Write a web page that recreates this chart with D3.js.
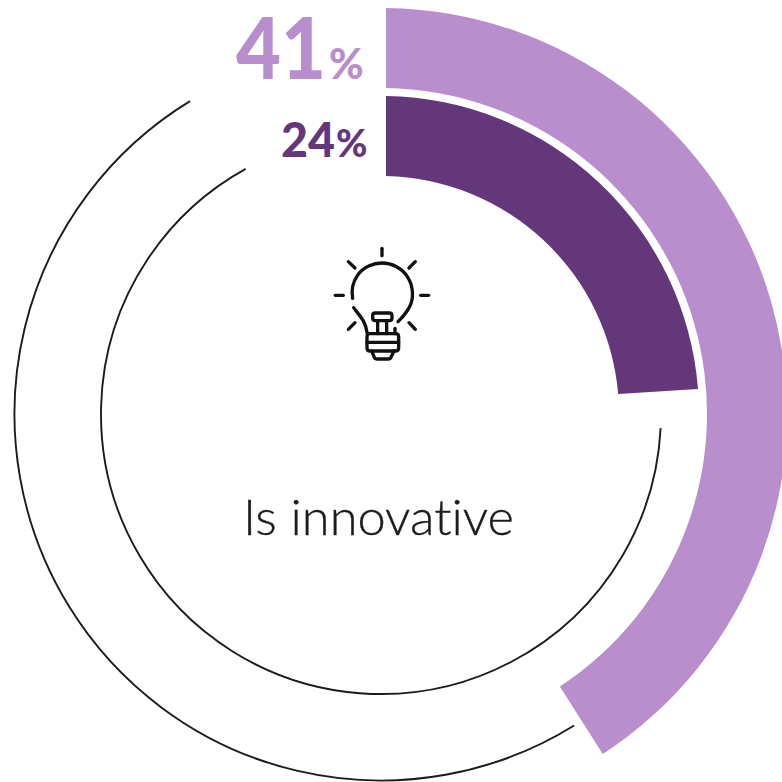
<!DOCTYPE html>
<html>
<head>
<meta charset="utf-8">
<script src="https://cdnjs.cloudflare.com/ajax/libs/d3/7.8.5/d3.min.js"></script>
<style>
html,body{margin:0;padding:0;background:#fff;overflow:hidden}
svg{display:block}
text{font-family:Lato,sans-serif;font-variant-ligatures:none}
</style>
</head>
<body>
<svg id="c" width="782" height="782"></svg>
<script>
const seriesNames = ["outer", "inner"];
const seriesValues = [41, 24];
const seriesLabels = ["41", "24"];
const seriesColors = ["#b88ecd", "#64367a"];
const title = "Is innovative";
// ring geometry
const bandOuter = [406, 318];
const bandInner = [326, 238];
const trackRadius = [366.5, 280];
const trackEndGapDeg = [0.6, 6.5];
const trackStartGapDeg = [31.4, 28.9];
const labelBase = [79, 157];
const labelNumX = [236, 281];
const labelNumWidth = [90, 54];
const labelNumSize = [86, 47];
const labelPctX = [329, 336];
const labelPctSize = [42, 38];

const svg = d3.select("#c");
const g = svg.append("g").attr("transform", "translate(381,414)");
const rad = d => d * Math.PI / 180;
const angle = d3.scaleLinear().domain([0, 100]).range([0, 360]);
const arc = d3.arc().padRadius(100).padAngle(0.1);

seriesNames.forEach((name, i) => {
  const end = angle(seriesValues[i]);
  // thin track
  g.append("path")
    .attr("d", d3.arc()({
      innerRadius: trackRadius[i], outerRadius: trackRadius[i],
      startAngle: rad(end + trackEndGapDeg[i]),
      endAngle: rad(360 - trackStartGapDeg[i])
    }))
    .attr("fill", "none").attr("stroke", "#1c1c1c").attr("stroke-width", 1.9);
  // band
  g.append("path")
    .attr("d", arc({
      innerRadius: bandInner[i], outerRadius: bandOuter[i],
      startAngle: 0, endAngle: rad(end)
    }))
    .attr("fill", seriesColors[i]);
  // labels
  svg.append("text").attr("x", labelNumX[i]).attr("y", labelBase[i])
    .attr("font-size", labelNumSize[i])
    .attr("textLength", labelNumWidth[i]).attr("lengthAdjust", "spacingAndGlyphs")
    .style("font-kerning", "none")
    .attr("font-weight", 900).attr("fill", seriesColors[i]).text(seriesLabels[i]);
  svg.append("text").attr("x", labelPctX[i]).attr("y", labelBase[i])
    .attr("font-size", labelPctSize[i]).attr("font-weight", 900)
    .attr("fill", seriesColors[i]).text("%");
});

svg.append("text").attr("x", 243).attr("y", 535)
  .attr("font-size", 50).attr("font-weight", 300).attr("fill", "#1c1c1c")
  .attr("stroke", "#1c1c1c").attr("stroke-width", 0.35)
  .attr("textLength", 271).attr("lengthAdjust", "spacingAndGlyphs").text(title);

// light-bulb icon
const icon = svg.append("g").attr("transform", "translate(320,235) scale(0.3333)")
  .attr("fill", "none").attr("stroke", "#111").attr("stroke-width", 10)
  .attr("stroke-linecap", "round").attr("stroke-linejoin", "round");
[
  "M186 40V62", "M85 80L105 99", "M286 80L267 99", "M46 181H70", "M302 181H326",
  "M85 283L105 263", "M286 283L267 263",
  "M98 190C92 160 100 140 112 122C130 96 160 84 186 84C215 84 245 98 262 125C282 155 282 195 266 220C256 238 244 250 234 260",
  "M101 218C115 240 135 250 142 296",
  "M225 280V296",
  "M166 234H208Q216 234 216 242V249Q216 257 208 257H166Q158 257 158 249V242Q158 234 166 234Z",
  "M173 257V296", "M200 257V296",
  "M150 296H226Q236 296 236 305V338Q236 348 226 348H150Q141 348 141 338V305Q141 296 150 296Z",
  "M141 322H236",
  "M155 348L163 367Q165 372 172 372H204Q211 372 213 367L222 348"
].forEach(d => icon.append("path").attr("d", d));
</script>
</body>
</html>
